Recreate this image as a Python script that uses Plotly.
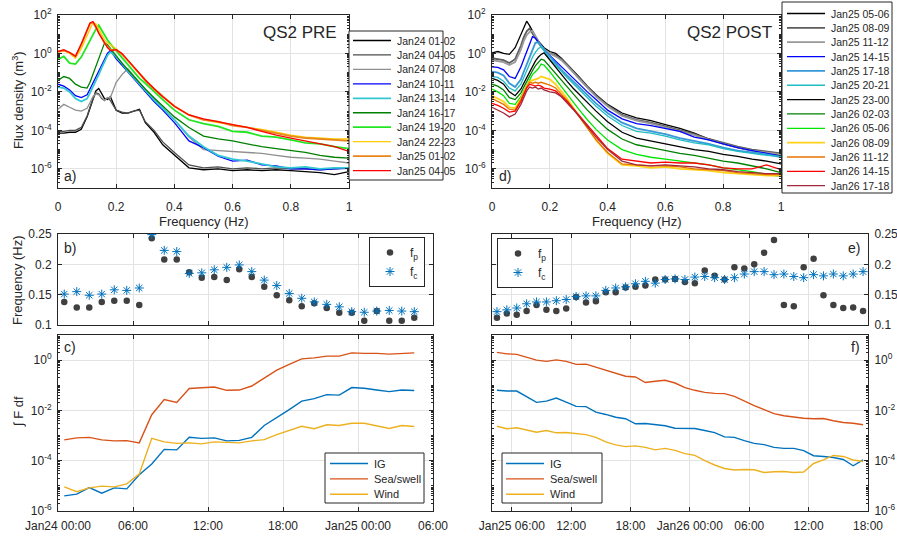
import plotly.graph_objects as go

W, H = 897, 536
FONT = "Liberation Sans, Arial, Helvetica, sans-serif"
AX = "#262626"
GRID = "#e3e3e3"

def X(px):
    return px / W

def Y(py):
    return 1 - py / H

# ---------------- DATA ----------------
FREQ = [0.00, 0.02, 0.04, 0.06, 0.08, 0.10, 0.11, 0.12, 0.13, 0.14, 0.15, 0.16, 0.17, 0.18,
        0.20, 0.22, 0.24, 0.26, 0.28, 0.30, 0.33, 0.36, 0.40, 0.45, 0.50, 0.55, 0.60, 0.65,
        0.70, 0.75, 0.80, 0.85, 0.90, 0.95, 1.00]

# log10 flux density, QS2 PRE
pre_names = ["Jan24 01-02", "Jan24 04-05", "Jan24 07-08", "Jan24 10-11", "Jan24 13-14",
             "Jan24 16-17", "Jan24 19-20", "Jan24 22-23", "Jan25 01-02", "Jan25 04-05"]
pre_colors = ["#000000", "#4d4d4d", "#8f8f8f", "#0000ff", "#33c8d2",
              "#008000", "#22e622", "#ffcc00", "#e8861a", "#ff0000"]
pre_widths = [1.3, 1.3, 1.3, 1.3, 1.8, 1.3, 1.8, 1.3, 1.8, 1.3]
a_0102 = [-4.15,-4.15,-4.10,-4.10,-3.95,-3.30,-2.85,-2.40,-1.95,-1.82,-2.10,-2.35,-2.40,-2.25,-2.95,-3.10,-3.10,-3.00,-2.90,-3.60,-4.10,-4.75,-5.30,-5.95,-6.05,-6.00,-6.10,-6.05,-6.10,-6.05,-6.10,-6.15,-6.20,-6.30,-6.15]
a_0405 = [-4.05,-4.05,-4.00,-4.00,-3.85,-3.25,-2.80,-2.35,-2.05,-2.10,-2.35,-2.45,-2.30,-2.45,-2.95,-3.05,-3.10,-3.00,-2.95,-3.55,-4.00,-4.60,-5.15,-5.80,-5.95,-5.90,-6.00,-5.95,-6.00,-5.95,-6.00,-6.00,-6.05,-6.00,-5.95]
a_0708 = [-2.90,-2.65,-2.80,-2.95,-3.00,-2.85,-2.55,-2.25,-2.10,-2.15,-2.30,-2.45,-2.30,-2.30,-1.50,-1.10,-0.80,-1.20,-1.55,-1.90,-2.40,-2.85,-3.45,-4.35,-5.00,-5.05,-5.10,-5.15,-5.20,-5.30,-5.40,-5.45,-5.50,-5.60,-5.70]
a_1011 = [-1.60,-1.70,-1.90,-2.20,-2.30,-2.15,-1.85,-1.55,-1.25,-0.95,-0.62,-0.30,0.00,0.15,-0.28,-0.62,-0.96,-1.30,-1.65,-2.00,-2.50,-2.95,-3.60,-4.55,-4.90,-5.35,-5.60,-5.55,-5.80,-5.85,-6.00,-6.00,-6.05,-6.00,-5.98]
a_1314 = [-1.75,-1.80,-2.00,-2.35,-2.50,-2.35,-2.05,-1.75,-1.40,-1.10,-0.75,-0.42,-0.10,0.08,-0.18,-0.52,-0.92,-1.25,-1.60,-1.95,-2.42,-2.85,-3.45,-4.30,-4.85,-5.30,-5.50,-5.60,-5.75,-5.90,-5.95,-5.90,-6.00,-5.95,-5.95]
a_1617 = [-1.40,-1.20,-1.30,-1.60,-1.75,-1.80,-1.50,-1.10,-0.70,-0.30,0.10,0.55,0.45,0.25,-0.10,-0.50,-0.85,-1.20,-1.55,-1.85,-2.30,-2.75,-3.30,-3.85,-4.30,-4.45,-4.55,-4.70,-4.85,-4.95,-5.05,-5.15,-5.30,-5.40,-5.45]
a_1920 = [-0.30,-0.15,-0.50,-0.55,-0.19,0.40,0.70,0.97,1.25,1.47,1.20,0.95,0.70,0.50,0.15,-0.25,-0.60,-0.95,-1.30,-1.55,-2.00,-2.40,-2.95,-3.45,-3.65,-3.80,-4.05,-4.10,-4.30,-4.35,-4.50,-4.65,-4.70,-4.85,-4.95]
a_2223 = [0.05,0.15,0.00,-0.25,0.25,0.95,1.30,1.60,1.55,1.25,0.95,0.72,0.55,0.45,0.25,-0.05,-0.38,-0.72,-1.05,-1.40,-1.85,-2.25,-2.75,-3.20,-3.45,-3.60,-3.70,-3.85,-3.95,-4.10,-4.25,-4.35,-4.40,-4.45,-4.45]
a_J0102 = [0.10,0.15,0.05,-0.15,0.45,1.15,1.55,1.62,1.35,1.05,0.80,0.55,0.35,0.20,0.18,-0.05,-0.38,-0.72,-1.05,-1.40,-1.85,-2.25,-2.75,-3.20,-3.45,-3.55,-3.75,-3.85,-4.00,-4.15,-4.30,-4.40,-4.45,-4.50,-4.55]
a_J0405 = [0.10,0.20,0.05,-0.15,0.50,1.18,1.58,1.66,1.40,1.05,0.78,0.50,0.30,0.15,0.20,0.00,-0.35,-0.70,-1.02,-1.38,-1.82,-2.25,-2.75,-3.20,-3.40,-3.55,-3.72,-3.85,-4.05,-4.25,-4.40,-4.55,-4.70,-4.85,-5.10]
pre_spec = [a_0102, a_0405, a_0708, a_1011, a_1314, a_1617, a_1920, a_2223, a_J0102, a_J0405]

# log10 flux density, QS2 POST
post_names = ["Jan25 05-06", "Jan25 08-09", "Jan25 11-12", "Jan25 14-15", "Jan25 17-18",
              "Jan25 20-21", "Jan25 23-00", "Jan26 02-03", "Jan26 05-06", "Jan26 08-09",
              "Jan26 11-12", "Jan26 14-15", "Jan26 17-18"]
post_colors = ["#000000", "#5c5c5c", "#999999", "#0000ff", "#3797d8",
               "#1fbcc4", "#000000", "#008000", "#00e600", "#ffd21a",
               "#e67300", "#ff0000", "#a3283c"]
post_widths = [1.3, 1.8, 1.8, 1.3, 1.8, 1.3, 1.3, 1.3, 1.3, 1.8, 1.3, 1.3, 1.3]
d_0506 = [0.03,0.10,0.00,-0.05,0.30,1.00,1.35,1.68,1.45,1.15,0.90,0.65,0.45,0.30,0.10,0.00,-0.25,-0.55,-0.85,-1.20,-1.70,-2.15,-2.65,-3.10,-3.35,-3.50,-3.70,-3.90,-4.15,-4.45,-4.70,-4.90,-5.05,-5.15,-5.30]
d_0809 = [-0.25,-0.30,-0.35,-0.50,-0.30,0.40,0.85,1.15,1.30,1.05,0.80,0.55,0.35,0.20,0.00,-0.10,-0.30,-0.60,-0.90,-1.25,-1.75,-2.20,-2.70,-3.20,-3.45,-3.60,-3.80,-4.00,-4.20,-4.45,-4.65,-4.85,-5.00,-5.10,-5.20]
d_1112 = [-0.35,-0.40,-0.45,-0.60,-0.45,0.20,0.65,0.95,1.12,1.18,0.90,0.60,0.38,0.20,0.00,-0.15,-0.35,-0.65,-0.95,-1.30,-1.78,-2.25,-2.75,-3.25,-3.50,-3.65,-3.85,-4.05,-4.25,-4.50,-4.70,-4.90,-5.05,-5.15,-5.25]
d_1415 = [-0.70,-0.72,-0.85,-1.20,-1.30,-0.70,-0.30,0.10,0.55,0.87,0.80,0.60,0.40,0.20,-0.10,-0.40,-0.70,-1.00,-1.30,-1.60,-2.00,-2.40,-2.95,-3.40,-3.65,-3.75,-3.90,-4.05,-4.35,-4.50,-4.70,-4.90,-5.05,-5.20,-5.35]
d_1718 = [-0.95,-1.00,-1.15,-1.55,-1.75,-1.35,-0.95,-0.55,-0.15,0.25,0.55,0.58,0.40,0.18,-0.20,-0.50,-0.85,-1.15,-1.45,-1.75,-2.20,-2.60,-3.10,-3.60,-3.90,-4.05,-4.20,-4.40,-4.55,-4.70,-4.90,-5.05,-5.15,-5.25,-5.40]
d_2021 = [-1.20,-1.25,-1.45,-1.80,-1.95,-1.60,-1.25,-0.90,-0.55,-0.20,0.05,0.25,0.35,0.15,-0.30,-0.60,-0.95,-1.25,-1.55,-1.85,-2.35,-2.75,-3.25,-3.75,-4.05,-4.15,-4.30,-4.50,-4.65,-4.75,-4.95,-5.10,-5.20,-5.30,-5.35]
d_2300 = [-1.30,-1.40,-1.60,-2.00,-2.20,-1.85,-1.55,-1.25,-0.95,-0.65,-0.40,-0.20,-0.05,0.03,-0.35,-0.75,-1.10,-1.45,-1.80,-2.10,-2.60,-3.00,-3.55,-4.10,-4.40,-4.55,-4.70,-4.85,-5.00,-5.10,-5.25,-5.35,-5.50,-5.60,-5.75]
d_0203 = [-1.60,-1.70,-1.90,-2.30,-2.40,-2.05,-1.75,-1.45,-1.15,-0.90,-0.65,-0.45,-0.30,-0.35,-0.70,-1.05,-1.40,-1.75,-2.10,-2.45,-2.95,-3.40,-3.95,-4.45,-4.75,-4.90,-5.05,-5.20,-5.30,-5.45,-5.60,-5.70,-5.85,-6.00,-6.20]
d_0506b = [-1.85,-2.00,-2.20,-2.60,-2.65,-2.25,-1.95,-1.65,-1.40,-1.10,-0.95,-0.80,-0.55,-0.60,-0.95,-1.35,-1.75,-2.15,-2.55,-2.90,-3.45,-3.95,-4.50,-5.00,-5.25,-5.40,-5.50,-5.60,-5.70,-5.80,-5.95,-6.05,-6.15,-6.30,-6.40]
d_0809b = [-2.20,-2.35,-2.50,-2.80,-2.85,-2.35,-2.00,-1.70,-1.45,-1.40,-1.35,-1.30,-1.20,-1.25,-1.35,-1.60,-1.95,-2.35,-2.80,-3.20,-3.85,-4.50,-5.20,-5.80,-5.85,-5.95,-5.90,-6.00,-6.05,-6.10,-6.20,-6.25,-6.30,-6.35,-6.35]
d_1112b = [-2.35,-2.50,-2.65,-2.90,-2.95,-2.40,-2.05,-1.75,-1.50,-1.55,-1.50,-1.55,-1.50,-1.55,-1.65,-1.80,-2.10,-2.45,-2.85,-3.25,-3.90,-4.50,-5.15,-5.75,-5.80,-5.85,-5.85,-5.90,-6.00,-6.05,-6.10,-6.20,-6.25,-6.30,-6.30]
d_1415b = [-2.60,-2.70,-2.85,-3.05,-3.00,-2.50,-2.15,-1.80,-1.60,-1.65,-1.70,-1.65,-1.70,-1.80,-1.85,-1.95,-2.20,-2.50,-2.85,-3.20,-3.75,-4.30,-4.95,-5.50,-5.60,-5.70,-5.65,-5.70,-5.70,-5.80,-5.95,-6.00,-6.00,-5.80,-6.05]
d_1718b = [-2.80,-2.95,-3.10,-3.30,-3.15,-2.65,-2.30,-1.95,-1.75,-1.80,-1.75,-1.85,-1.80,-1.90,-2.00,-2.05,-2.25,-2.55,-2.90,-3.25,-3.80,-4.35,-5.00,-5.60,-5.80,-5.85,-5.80,-5.85,-5.90,-6.00,-6.05,-6.15,-6.20,-6.25,-6.25]
post_spec = [d_0506, d_0809, d_1112, d_1415, d_1718, d_2021, d_2300, d_0203, d_0506b,
             d_0809b, d_1112b, d_1415b, d_1718b]

# time in hours since Jan24 00:00
t_pre = [0.5, 1.5, 2.5, 3.5, 4.5, 5.5, 6.5, 7.5, 8.5, 9.5, 10.5, 11.5, 12.5, 13.5, 14.5,
         15.5, 16.5, 17.5, 18.5, 19.5, 20.5, 21.5, 22.5, 23.5, 24.5, 25.5, 26.5, 27.5, 28.5]
t_post = [28.5, 29.5, 30.5, 31.5, 32.5, 33.5, 34.5, 35.5, 36.5, 37.5, 38.5, 39.5, 40.5,
          41.5, 42.5, 43.5, 44.5, 45.5, 46.5, 47.5, 48.5, 49.5, 50.5, 51.5, 52.5, 53.5,
          54.5, 55.5, 56.5, 57.5, 58.5, 59.5, 60.5, 61.5, 62.5, 63.5, 64.5, 65.5]

fp_pre = [0.138,0.129,0.129,0.138,0.140,0.140,0.133,0.243,0.208,0.208,0.187,0.178,0.179,0.174,0.192,
          0.179,0.163,0.149,0.141,0.131,0.136,0.128,0.120,0.120,0.107,0.123,0.107,0.107,0.112]
fc_pre = [0.151,0.155,0.149,0.151,0.158,0.157,0.161,0.249,0.223,0.221,0.185,0.186,0.191,0.195,0.199,
          0.188,0.174,0.165,0.152,0.144,0.138,0.134,0.130,0.122,0.121,0.123,0.124,0.123,0.122]
fp_post = [0.112,0.119,0.117,0.123,0.133,0.125,0.123,0.127,0.146,0.137,0.139,0.154,0.154,0.162,
           0.163,0.165,0.175,0.175,0.176,0.171,0.169,0.190,0.181,0.175,0.195,0.193,0.200,0.219,
           0.240,0.133,0.131,0.195,0.209,0.149,0.133,0.128,0.129,0.123]
fc_post = [0.122,0.125,0.128,0.135,0.138,0.138,0.140,0.142,0.147,0.148,0.148,0.157,0.161,0.163,
           0.168,0.172,0.169,0.175,0.176,0.175,0.179,0.180,0.178,0.175,0.178,0.184,0.188,0.188,
           0.183,0.184,0.180,0.178,0.183,0.181,0.184,0.181,0.184,0.188]

# log10 integrated energy
ig_pre = [-5.40,-5.33,-5.07,-5.29,-5.08,-5.12,-4.56,-4.13,-3.55,-3.57,-3.07,-3.11,-3.09,-3.21,-3.19,
          -3.07,-2.60,-2.29,-1.97,-1.63,-1.53,-1.37,-1.39,-1.09,-1.12,-1.19,-1.25,-1.19,-1.21]
sea_pre = [-3.17,-3.09,-3.07,-3.17,-3.21,-3.20,-3.29,-2.17,-1.57,-1.68,-1.13,-1.09,-1.07,-1.20,-1.19,
           -1.03,-0.73,-0.40,-0.17,0.05,0.09,0.16,0.16,0.29,0.27,0.27,0.24,0.27,0.29]
wind_pre = [-5.04,-5.23,-5.08,-5.01,-5.04,-4.92,-4.53,-3.11,-3.25,-3.31,-3.29,-3.33,-3.25,-3.27,-3.29,
            -3.21,-3.16,-2.96,-2.80,-2.63,-2.73,-2.57,-2.60,-2.51,-2.51,-2.63,-2.72,-2.60,-2.64]
ig_post = [-1.20,-1.23,-1.23,-1.44,-1.68,-1.63,-1.51,-1.67,-1.84,-1.85,-2.07,-2.16,-2.27,-2.33,
           -2.53,-2.52,-2.55,-2.61,-2.71,-2.72,-2.72,-2.80,-2.88,-3.05,-3.07,-3.20,-3.31,-3.36,
           -3.47,-3.51,-3.51,-3.60,-3.80,-3.83,-3.87,-3.95,-4.20,-3.97]
sea_post = [0.31,0.25,0.23,0.11,0.00,-0.05,0.01,-0.05,-0.17,-0.16,-0.28,-0.40,-0.51,-0.64,
            -0.67,-0.89,-0.84,-0.80,-0.91,-1.09,-1.20,-1.28,-1.32,-1.33,-1.44,-1.63,-1.81,-1.97,
            -2.13,-2.21,-2.27,-2.31,-2.33,-2.32,-2.41,-2.48,-2.51,-2.57]
wind_post = [-2.63,-2.73,-2.69,-2.79,-2.87,-2.80,-2.89,-2.88,-2.92,-2.96,-3.07,-3.25,-3.37,-3.44,
             -3.41,-3.47,-3.57,-3.51,-3.59,-3.72,-3.79,-4.00,-4.17,-4.31,-4.37,-4.35,-4.36,-4.47,
             -4.44,-4.43,-4.47,-4.45,-4.11,-3.97,-3.79,-3.83,-3.97,-4.03]
energy_names = ["IG", "Sea/swell", "Wind"]
energy_colors = ["#0072BD", "#D95319", "#EDB120"]

time_ticks_pre = [0, 6, 12, 18, 24, 30]
time_labels_pre = ["Jan24 00:00", "06:00", "12:00", "18:00", "Jan25 00:00", "06:00"]
time_ticks_post = [30, 36, 42, 48, 54, 60, 66]
time_labels_post = ["Jan25 06:00", "12:00", "18:00", "Jan26 00:00", "06:00", "12:00", "18:00"]
freq_ticks = [0, 0.2, 0.4, 0.6, 0.8, 1.0]
freq_labels = ["0", "0.2", "0.4", "0.6", "0.8", "1"]

for s in pre_spec + post_spec:
    assert len(s) == len(FREQ)
for s in [fp_pre, fc_pre, ig_pre, sea_pre, wind_pre]:
    assert len(s) == len(t_pre)
for s in [fp_post, fc_post, ig_post, sea_post, wind_post]:
    assert len(s) == len(t_post)

# ---------------- FIGURE ----------------
fig = go.Figure()

def p10(v):
    return [10 ** x for x in v]

for nm, col, lw, vals in zip(pre_names, pre_colors, pre_widths, pre_spec):
    fig.add_trace(go.Scatter(x=FREQ, y=p10(vals), mode="lines", name=nm,
                             line=dict(color=col, width=lw), xaxis="x", yaxis="y",
                             showlegend=False))
for nm, col, lw, vals in zip(post_names, post_colors, post_widths, post_spec):
    fig.add_trace(go.Scatter(x=FREQ, y=p10(vals), mode="lines", name=nm,
                             line=dict(color=col, width=lw), xaxis="x4", yaxis="y4",
                             showlegend=False))

fp_marker = dict(color="#404040", size=6.5, symbol="circle")
fc_marker = dict(color="#0072BD", size=7.5, symbol="asterisk-open", line=dict(color="#1a7cc4", width=1.0))
for xs, fp, fc, xa, ya, lg in [(t_pre, fp_pre, fc_pre, "x2", "y2", "legend3"),
                               (t_post, fp_post, fc_post, "x5", "y5", "legend4")]:
    fig.add_trace(go.Scatter(x=xs, y=fp, mode="markers", name="f<sub>p</sub>", marker=fp_marker,
                             xaxis=xa, yaxis=ya, legend=lg))
    fig.add_trace(go.Scatter(x=xs, y=fc, mode="markers", name="f<sub>c</sub>", marker=fc_marker,
                             xaxis=xa, yaxis=ya, legend=lg))

for xs, series, xa, ya in [(t_pre, [ig_pre, sea_pre, wind_pre], "x3", "y3"),
                           (t_post, [ig_post, sea_post, wind_post], "x6", "y6")]:
    for nm, col, vals in zip(energy_names, energy_colors, series):
        fig.add_trace(go.Scatter(x=xs, y=p10(vals), mode="lines", name=nm,
                                 line=dict(color=col, width=1.4), xaxis=xa, yaxis=ya,
                                 showlegend=False))

# ---------------- AXES ----------------
tickfont = dict(family=FONT, size=12, color=AX)
base = dict(showline=True, linecolor=AX, linewidth=1, mirror="ticks", ticks="inside",
            ticklen=4, tickcolor=AX, tickwidth=1, showgrid=True, gridcolor=GRID, gridwidth=1,
            zeroline=False, tickfont=tickfont, fixedrange=True, automargin=False)

def log_minor(lo, hi):
    vals = []
    for k in range(lo, hi):
        for m in range(2, 10):
            vals.append(m * 10.0 ** k)
        if k % 2 != 0:
            vals.append(10.0 ** k)
    if hi % 2 != 0:
        vals.append(10.0 ** hi)
    return vals

def sup(k):
    return "10<sup>%d</sup>" % k

spec_y_ticks = [1e-6, 1e-4, 1e-2, 1, 1e2]
spec_y_text = [sup(k) for k in (-6, -4, -2, 0, 2)]
en_y_ticks = [1e-6, 1e-4, 1e-2, 1]
en_y_text = [sup(k) for k in (-6, -4, -2, 0)]
minor_spec = dict(tickmode="array", tickvals=log_minor(-7, 2), ticks="inside", ticklen=2,
                  tickcolor=AX, showgrid=False)
minor_en = dict(tickmode="array", tickvals=log_minor(-6, 1), ticks="inside", ticklen=2,
                tickcolor=AX, showgrid=False)

xa_dom = [X(58), X(349)]
xd_dom = [X(492), X(781)]
xl_dom = [X(58), X(433)]
xr_dom = [X(492), X(868)]
top_dom = [Y(188), Y(15)]
mid_dom = [Y(325), Y(234)]
bot_dom = [Y(511), Y(335)]

layout_axes = dict(
    xaxis=dict(base, domain=xa_dom, range=[0, 1], tickmode="array", tickvals=freq_ticks,
               ticktext=freq_labels, anchor="y", ticklabelstandoff=8),
    yaxis=dict(base, domain=top_dom, type="log", range=[-7, 2], tickmode="array",
               tickvals=spec_y_ticks, ticktext=spec_y_text, minor=minor_spec, anchor="x",
               ticklabelstandoff=3),
    xaxis4=dict(base, domain=xd_dom, range=[0, 1], tickmode="array", tickvals=freq_ticks,
                ticktext=freq_labels, anchor="y4", ticklabelstandoff=8),
    yaxis4=dict(base, domain=top_dom, type="log", range=[-7, 2], tickmode="array",
                tickvals=spec_y_ticks, ticktext=spec_y_text, minor=minor_spec, anchor="x4",
                ticklabelstandoff=3),
    xaxis2=dict(base, domain=xl_dom, range=[0, 30], tickmode="array", tickvals=time_ticks_pre,
                showticklabels=False, anchor="y2"),
    yaxis2=dict(base, domain=mid_dom, range=[0.1, 0.25], tickmode="array",
                tickvals=[0.1, 0.15, 0.2, 0.25], ticktext=["0.1", "0.15", "0.2", "0.25"],
                anchor="x2", ticklabelstandoff=3),
    xaxis5=dict(base, domain=xr_dom, range=[28, 66], tickmode="array", tickvals=time_ticks_post,
                showticklabels=False, anchor="y5"),
    yaxis5=dict(base, domain=mid_dom, range=[0.1, 0.25], tickmode="array",
                tickvals=[0.1, 0.15, 0.2, 0.25], ticktext=["0.1", "0.15", "0.2", "0.25"],
                anchor="x5", side="right", ticklabelstandoff=3),
    xaxis3=dict(base, domain=xl_dom, range=[0, 30], tickmode="array", tickvals=time_ticks_pre,
                ticktext=time_labels_pre, anchor="y3", ticklabelstandoff=4),
    yaxis3=dict(base, domain=bot_dom, type="log", range=[-6, 1], tickmode="array",
                tickvals=en_y_ticks, ticktext=en_y_text, minor=minor_en, anchor="x3",
                ticklabelstandoff=3),
    xaxis6=dict(base, domain=xr_dom, range=[28, 66], tickmode="array", tickvals=time_ticks_post,
                ticktext=time_labels_post, anchor="y6", ticklabelstandoff=4),
    yaxis6=dict(base, domain=bot_dom, type="log", range=[-6, 1], tickmode="array",
                tickvals=en_y_ticks, ticktext=en_y_text, minor=minor_en, anchor="x6",
                side="right", ticklabelstandoff=3),
)

# ---------------- LEGENDS / TEXT ----------------
shapes = []
annotations = []

def txt(s, x, y, size=12, xanchor="center", yanchor="middle", angle=0):
    annotations.append(dict(text=s, x=X(x), y=Y(y), xref="paper", yref="paper",
                            xanchor=xanchor, yanchor=yanchor, showarrow=False, textangle=angle,
                            font=dict(family=FONT, size=size, color=AX)))

def line_legend(box, lx0, lx1, tx, y0, dy, names, colors, widths, fsize):
    shapes.append(dict(type="rect", xref="paper", yref="paper", x0=X(box[0]), x1=X(box[1]),
                       y0=Y(box[3]), y1=Y(box[2]), line=dict(color=AX, width=1),
                       fillcolor="white", layer="above"))
    for i, (nm, col, lw) in enumerate(zip(names, colors, widths)):
        yy = y0 + i * dy
        shapes.append(dict(type="line", xref="paper", yref="paper", x0=X(lx0), x1=X(lx1),
                           y0=Y(yy), y1=Y(yy), line=dict(color=col, width=lw), layer="above"))
        txt(nm, tx, yy, size=fsize, xanchor="left")

line_legend((349, 443, 31, 180), 353, 391, 395, 40.5, 14.45, pre_names, pre_colors,
            pre_widths, 10.5)
line_legend((782, 892, 2, 193), 787, 825, 829, 13.5, 14.35, post_names, post_colors,
            post_widths, 10.5)
line_legend((325, 424, 453, 503), 330, 368, 372, 463.5, 15.4, energy_names, energy_colors,
            [1.4, 1.4, 1.4], 11)
line_legend((502, 602, 453, 503), 506, 544, 548, 463.5, 15.4, energy_names, energy_colors,
            [1.4, 1.4, 1.4], 11)

leg_common = dict(bordercolor=AX, borderwidth=1, bgcolor="white", xanchor="left",
                  yanchor="top", font=dict(family=FONT, size=12, color=AX), tracegroupgap=0)

txt("QS2 PRE", 300, 33, size=17)
txt("QS2 POST", 729, 33, size=17)
txt("a)", 62, 176, size=14, xanchor="left")
txt("d)", 497, 176, size=14, xanchor="left")
txt("b)", 62, 248, size=14, xanchor="left")
txt("e)", 862, 248, size=14, xanchor="right")
txt("c)", 62, 347, size=14, xanchor="left")
txt("f)", 862, 347, size=14, xanchor="right")
txt("Frequency (Hz)", 203.5, 221, size=13)
txt("Frequency (Hz)", 636.5, 221, size=13)
txt("Flux density (m<sup>3</sup>)", 18, 100, size=13, angle=-90)
txt("Frequency (Hz)", 17, 280, size=13, angle=-90)
txt("\u222b F df", 18, 412, size=13, angle=-90)

fig.update_layout(
    width=W, height=H, autosize=False,
    margin=dict(l=0, r=0, t=0, b=0),
    paper_bgcolor="white", plot_bgcolor="white",
    font=dict(family=FONT, size=12, color=AX),
    shapes=shapes, annotations=annotations,
    legend3=dict(leg_common, x=X(369), y=Y(237)),
    legend4=dict(leg_common, x=X(497), y=Y(238)),
    **layout_axes,
)

fig.write_html("out.html")
